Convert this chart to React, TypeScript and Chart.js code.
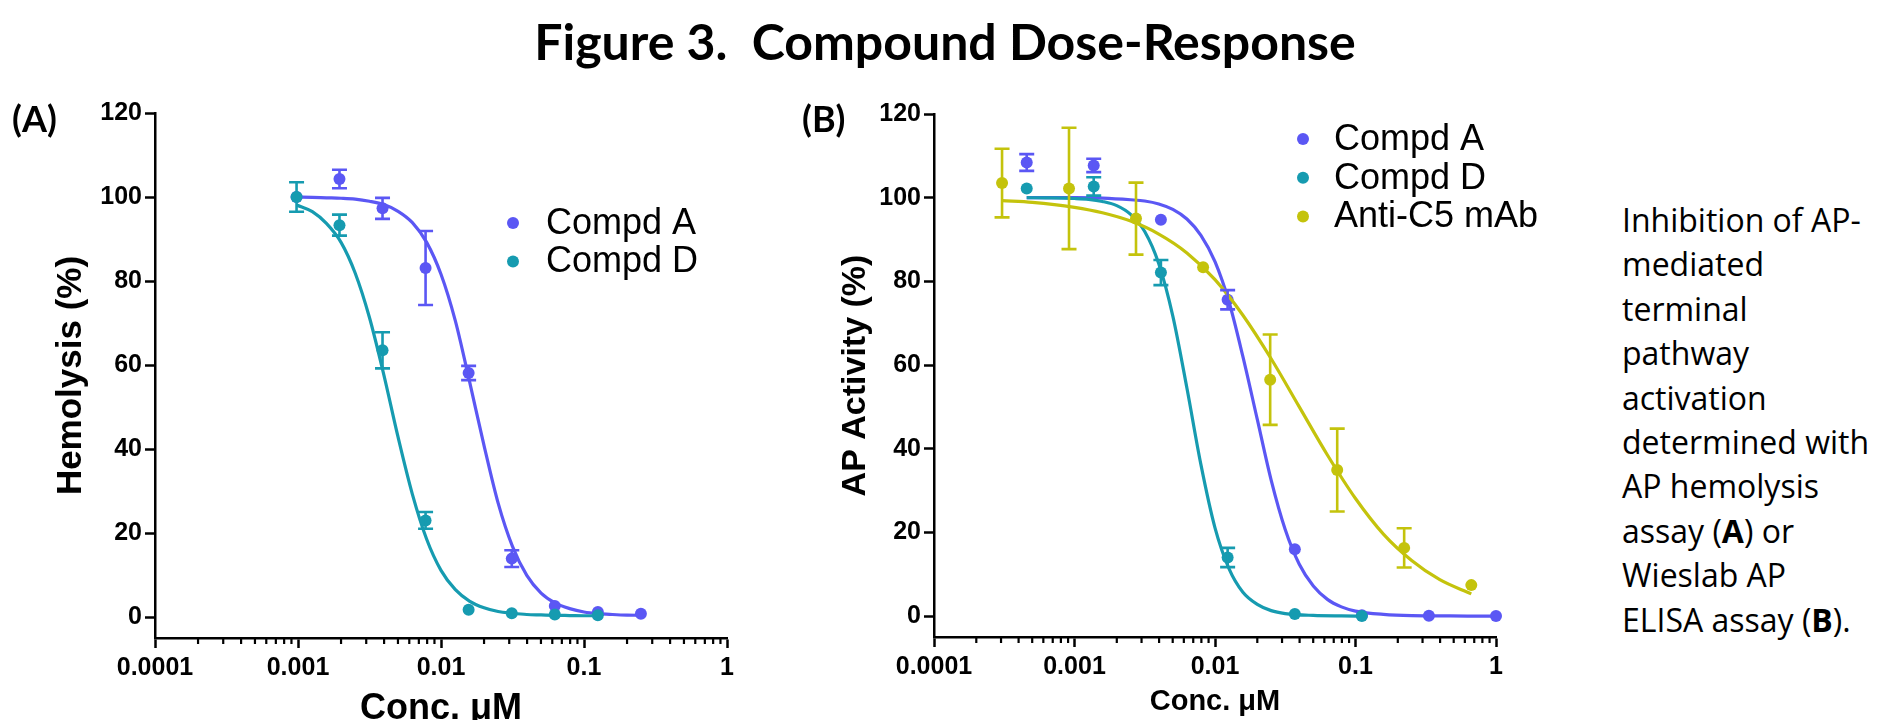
import React, { useEffect, useRef } from 'react';
import { Chart, registerables } from 'chart.js';

Chart.register(...registerables);

const AXIS_FONT = "'Liberation Sans', Arial, sans-serif";
const COLOR_A = '#5b57f4';
const COLOR_D = '#169bb0';
const COLOR_C5 = '#c4c30c';

// ---------- axis ticks ----------
const xTickValues = [0.0001, 0.001, 0.01, 0.1, 1];
const xTickLabels = ['0.0001', '0.001', '0.01', '0.1', '1'];
const yTickValues = [0, 20, 40, 60, 80, 100, 120];
const yTickLabels = ['0', '20', '40', '60', '80', '100', '120'];

// ---------- Panel A : hemolysis ----------
const seriesNamesA = ['Compd A', 'Compd D'];
const concA_hemo = [0.000977, 0.00195, 0.0039, 0.0078, 0.0156, 0.03125, 0.0625, 0.125, 0.25];
const hemoA = [100, 104.3, 97.3, 83.1, 58.1, 13.9, 2.6, 1.2, 0.8];
const hemoAErr = [0, 2.2, 2.5, 8.8, 1.7, 2.0, 0, 0, 0];
const concD_hemo = [0.000977, 0.00195, 0.0039, 0.0078, 0.0156, 0.03125, 0.0625, 0.125];
const hemoD = [100, 93.3, 63.5, 23.0, 1.7, 0.9, 0.6, 0.4];
const hemoDErr = [3.5, 2.5, 4.3, 2.0, 0, 0, 0, 0];

const fitConcA_hemo = [0.000977, 0.00126, 0.00158, 0.002, 0.00251, 0.00316, 0.00398, 0.00501, 0.00631, 0.00794, 0.01, 0.0126, 0.0158, 0.02, 0.0251, 0.0316, 0.0398, 0.0501, 0.0631, 0.0794, 0.1, 0.126, 0.158, 0.2, 0.25];
const fitA_hemo = [100.0, 99.9, 99.8, 99.7, 99.5, 99.0, 98.2, 96.6, 93.9, 89.2, 81.6, 70.5, 56.2, 40.8, 27.1, 16.8, 9.9, 5.7, 3.3, 2.0, 1.2, 0.8, 0.6, 0.45, 0.4];
const fitConcD_hemo = [0.000977, 0.00126, 0.00158, 0.002, 0.00251, 0.00316, 0.00398, 0.00501, 0.00631, 0.00794, 0.01, 0.0126, 0.0158, 0.02, 0.0251, 0.0316, 0.0398, 0.0501, 0.0631, 0.0794, 0.1, 0.125];
const fitD_hemo = [98.1, 96.5, 93.7, 89.2, 81.9, 71.3, 57.7, 42.8, 29.2, 18.5, 11.1, 6.5, 3.8, 2.2, 1.3, 0.9, 0.6, 0.5, 0.4, 0.35, 0.3, 0.3];

// ---------- Panel B : Wieslab AP ELISA ----------
const seriesNamesB = ['Compd A', 'Compd D', 'Anti-C5 mAb'];
const concA_ap = [0.000457, 0.00137, 0.00412, 0.0123, 0.037, 0.111, 0.333, 1];
const apA = [108.4, 107.7, 94.7, 75.6, 16.0, 0.2, 0.1, 0.0];
const apAErr = [2.0, 1.6, 0, 2.3, 0, 0, 0, 0];
const concD_ap = [0.000457, 0.00137, 0.00412, 0.0123, 0.037, 0.111];
const apD = [102.2, 102.7, 82.1, 14.0, 0.5, 0.0];
const apDErr = [0, 2.2, 3.0, 2.3, 0, 0];
const concC5 = [0.000305, 0.000914, 0.00274, 0.00823, 0.0247, 0.0741, 0.222, 0.667];
const apC5 = [103.5, 102.2, 95.0, 83.4, 56.5, 34.9, 16.3, 7.4];
const apC5Err = [8.2, 14.5, 8.6, 0, 10.8, 9.9, 4.7, 0];

const fitConcA_ap = [0.000457, 0.000631, 0.001, 0.00158, 0.00251, 0.00316, 0.00398, 0.00501, 0.00631, 0.00794, 0.01, 0.0126, 0.0158, 0.02, 0.0251, 0.0316, 0.0398, 0.0501, 0.0631, 0.0794, 0.1, 0.158, 0.251, 0.398, 0.631, 1.0];
const fitA_ap = [100.0, 100.0, 100.0, 99.9, 99.5, 99.2, 98.5, 97.2, 94.9, 91.0, 84.7, 75.0, 62.0, 47.0, 32.5, 20.7, 12.4, 7.2, 4.0, 2.2, 1.2, 0.4, 0.1, 0.05, 0.0, 0.0];
const fitConcD_ap = [0.000457, 0.000631, 0.001, 0.00126, 0.00158, 0.002, 0.00251, 0.00316, 0.00398, 0.00501, 0.00631, 0.00794, 0.01, 0.0126, 0.0158, 0.02, 0.0251, 0.0316, 0.0501, 0.0794, 0.111];
const fitD_ap = [100.0, 99.95, 99.8, 99.6, 99.1, 98.1, 96.0, 91.9, 84.2, 71.7, 54.5, 36.2, 21.1, 11.3, 5.7, 2.8, 1.3, 0.6, 0.15, 0.03, 0.0];
const fitConcC5 = [0.000305, 0.000501, 0.001, 0.00158, 0.00251, 0.00398, 0.00631, 0.01, 0.0158, 0.0251, 0.0398, 0.0631, 0.1, 0.158, 0.251, 0.398, 0.667];
const fitC5 = [99.3, 98.9, 97.7, 96.4, 94.4, 91.3, 86.8, 80.4, 71.9, 61.5, 50.0, 38.5, 28.1, 19.6, 13.3, 8.7, 5.3];

const toPoints = (xs: number[], ys: number[]) => xs.map((x, i) => ({ x, y: ys[i] }));

function pointSet(label: string, color: string, xs: number[], ys: number[], errs: number[]) {
  return {
    type: 'line',
    label,
    data: toPoints(xs, ys),
    showLine: false,
    pointRadius: 6,
    pointHoverRadius: 6,
    pointBorderWidth: 0,
    pointBackgroundColor: color,
    borderColor: color,
    backgroundColor: color,
    clip: false,
    errorBars: errs,
  };
}

function fitSet(label: string, color: string, xs: number[], ys: number[]) {
  return {
    type: 'line',
    label,
    data: toPoints(xs, ys),
    borderColor: color,
    backgroundColor: color,
    borderWidth: 3.2,
    pointRadius: 0,
    pointHoverRadius: 0,
    fill: false,
    cubicInterpolationMode: 'monotone',
    clip: false,
  };
}

type PanelCfg = {
  left: number;
  width: number;
  height: number;
  area: { left: number; right: number; top: number; bottom: number };
  yTitle: string;
  yTitleSize: number;
  yTitleMid: number;
  xTitle: string;
  xTitleSize: number;
  xTitleMid: number;
  legend: { x: number; y: number; gap: number; textX: number; size: number; names: string[]; colors: string[] };
  datasets: any[];
};

function buildChart(canvas: HTMLCanvasElement, cfg: PanelCfg) {
  const { area } = cfg;
  const yWidth = area.left - cfg.left;
  const xHeight = cfg.height - area.bottom;
  const xTitleLH = cfg.xTitleSize * 1.2;
  const yTitleLH = cfg.yTitleSize * 1.2;

  const errorBarPlugin = {
    id: 'errorBars',
    afterDatasetsDraw(chart: any) {
      const ctx = chart.ctx;
      const xs = chart.scales.x;
      const ys = chart.scales.y;
      ctx.save();
      for (let i = chart.data.datasets.length - 1; i >= 0; i--) {
        const ds: any = chart.data.datasets[i];
        if (!ds.errorBars) continue;
        ctx.strokeStyle = ds.borderColor;
        ctx.lineWidth = 2.6;
        ds.data.forEach((p: any, j: number) => {
          const e = ds.errorBars[j];
          if (!e) return;
          const px = xs.getPixelForValue(p.x);
          const top = ys.getPixelForValue(p.y + e);
          const bot = ys.getPixelForValue(p.y - e);
          ctx.beginPath();
          ctx.moveTo(px, top);
          ctx.lineTo(px, bot);
          ctx.moveTo(px - 7.5, top);
          ctx.lineTo(px + 7.5, top);
          ctx.moveTo(px - 7.5, bot);
          ctx.lineTo(px + 7.5, bot);
          ctx.stroke();
        });
      }
      ctx.restore();
    },
  };

  const minorTickPlugin = {
    id: 'minorTicks',
    afterDraw(chart: any) {
      const ctx = chart.ctx;
      const xs = chart.scales.x;
      const b = chart.chartArea.bottom;
      ctx.save();
      ctx.strokeStyle = '#000';
      ctx.lineWidth = 2.2;
      for (let k = 0; k < xTickValues.length - 1; k++) {
        for (let m = 2; m <= 9; m++) {
          const px = xs.getPixelForValue(xTickValues[k] * m);
          ctx.beginPath();
          ctx.moveTo(px, b);
          ctx.lineTo(px, b + 6);
          ctx.stroke();
        }
      }
      ctx.restore();
    },
  };

  const legendPlugin = {
    id: 'sideLegend',
    afterDraw(chart: any) {
      const ctx = chart.ctx;
      const L = cfg.legend;
      ctx.save();
      L.names.forEach((name, i) => {
        const y = L.y + i * L.gap;
        ctx.fillStyle = L.colors[i];
        ctx.beginPath();
        ctx.arc(L.x, y, 6, 0, Math.PI * 2);
        ctx.fill();
        ctx.fillStyle = '#000';
        ctx.font = `${L.size}px ${AXIS_FONT}`;
        ctx.textAlign = 'left';
        ctx.textBaseline = 'middle';
        ctx.fillText(name, L.textX, y + 1);
      });
      ctx.restore();
    },
  };

  const tickFont = { family: AXIS_FONT, size: 25, weight: 'bold' as const };

  return new Chart(canvas, {
    type: 'line',
    data: { datasets: cfg.datasets },
    plugins: [errorBarPlugin, minorTickPlugin, legendPlugin],
    options: {
      responsive: false,
      maintainAspectRatio: false,
      animation: false,
      devicePixelRatio: 1,
      events: [],
      layout: {
        padding: { left: 0, top: area.top, right: cfg.left + cfg.width - area.right, bottom: 0 },
      },
      plugins: { legend: { display: false }, tooltip: { enabled: false }, title: { display: false } },
      scales: {
        x: {
          type: 'logarithmic',
          min: xTickValues[0],
          max: xTickValues[xTickValues.length - 1],
          afterBuildTicks: (s: any) => {
            s.ticks = xTickValues.map((v) => ({ value: v, major: true }));
          },
          afterFit: (s: any) => {
            s.height = xHeight;
          },
          border: { display: true, color: '#000', width: 2.5 },
          grid: { display: true, drawOnChartArea: false, drawTicks: true, tickLength: 10, tickWidth: 2.5, tickColor: '#000' },
          ticks: {
            autoSkip: false,
            maxRotation: 0,
            minRotation: 0,
            padding: 5,
            color: '#000',
            font: tickFont,
            callback: (v: any) => {
              const i = xTickValues.indexOf(Number(v));
              return i >= 0 ? xTickLabels[i] : '';
            },
          },
          title: {
            display: true,
            text: cfg.xTitle,
            color: '#000',
            font: { family: AXIS_FONT, size: cfg.xTitleSize, weight: 'bold', lineHeight: 1.2 },
            padding: { top: 0, bottom: cfg.height - cfg.xTitleMid - xTitleLH / 2 },
          },
        },
        y: {
          type: 'linear',
          min: -5,
          max: 120,
          afterBuildTicks: (s: any) => {
            s.ticks = yTickValues.map((v) => ({ value: v }));
          },
          afterFit: (s: any) => {
            s.width = yWidth;
          },
          border: { display: true, color: '#000', width: 2.5 },
          grid: { display: true, drawOnChartArea: false, drawTicks: true, tickLength: 10, tickWidth: 2.5, tickColor: '#000' },
          ticks: {
            padding: 3,
            color: '#000',
            font: tickFont,
            callback: (v: any) => {
              const i = yTickValues.indexOf(Number(v));
              return i >= 0 ? yTickLabels[i] : '';
            },
          },
          title: {
            display: true,
            text: cfg.yTitle,
            color: '#000',
            font: { family: AXIS_FONT, size: cfg.yTitleSize, weight: 'bold', lineHeight: 1.2 },
            padding: { top: cfg.yTitleMid - cfg.left - yTitleLH / 2, bottom: 0 },
          },
        },
      },
    } as any,
  });
}

function Panel({ cfg }: { cfg: PanelCfg }) {
  const ref = useRef<HTMLCanvasElement | null>(null);
  useEffect(() => {
    if (!ref.current) return;
    const chart = buildChart(ref.current, cfg);
    return () => chart.destroy();
  }, [cfg]);
  return (
    <canvas
      ref={ref}
      width={cfg.width}
      height={cfg.height}
      style={{ position: 'absolute', left: cfg.left, top: 0, width: cfg.width, height: cfg.height }}
    />
  );
}

const panelA: PanelCfg = {
  left: 0,
  width: 760,
  height: 760,
  area: { left: 155, right: 727, top: 113, bottom: 638 },
  yTitle: 'Hemolysis (%)',
  yTitleSize: 35,
  yTitleMid: 71,
  xTitle: 'Conc. μM',
  xTitleSize: 36,
  xTitleMid: 709,
  legend: { x: 513, y: 223, gap: 38.5, textX: 546, size: 36, names: seriesNamesA, colors: [COLOR_A, COLOR_D] },
  datasets: [
    pointSet(seriesNamesA[1], COLOR_D, concD_hemo, hemoD, hemoDErr),
    fitSet(seriesNamesA[1] + ' fit', COLOR_D, fitConcD_hemo, fitD_hemo),
    pointSet(seriesNamesA[0], COLOR_A, concA_hemo, hemoA, hemoAErr),
    fitSet(seriesNamesA[0] + ' fit', COLOR_A, fitConcA_hemo, fitA_hemo),
  ],
};

const panelB: PanelCfg = {
  left: 780,
  width: 800,
  height: 760,
  area: { left: 934, right: 1496, top: 114, bottom: 637 },
  yTitle: 'AP Activity (%)',
  yTitleSize: 34,
  yTitleMid: 856,
  xTitle: 'Conc. μM',
  xTitleSize: 29,
  xTitleMid: 702,
  legend: { x: 523, y: 139, gap: 38.7, textX: 554, size: 36, names: seriesNamesB, colors: [COLOR_A, COLOR_D, COLOR_C5] },
  datasets: [
    pointSet(seriesNamesB[2], COLOR_C5, concC5, apC5, apC5Err),
    fitSet(seriesNamesB[2] + ' fit', COLOR_C5, fitConcC5, fitC5),
    pointSet(seriesNamesB[1], COLOR_D, concD_ap, apD, apDErr),
    fitSet(seriesNamesB[1] + ' fit', COLOR_D, fitConcD_ap, fitD_ap),
    pointSet(seriesNamesB[0], COLOR_A, concA_ap, apA, apAErr),
    fitSet(seriesNamesB[0] + ' fit', COLOR_A, fitConcA_ap, fitA_ap),
  ],
};

export default function App() {
  return (
    <div
      style={{
        position: 'fixed',
        left: 0,
        top: 0,
        width: 1881,
        height: 720,
        overflow: 'hidden',
        background: '#fff',
      }}
    >
      <Panel cfg={panelA} />
      <Panel cfg={panelB} />
      <div
        style={{
          position: 'absolute',
          left: 0,
          top: 11,
          width: 1890,
          textAlign: 'center',
          fontFamily: 'Lato, sans-serif',
          fontWeight: 700,
          fontSize: 50,
          lineHeight: 1.2,
          whiteSpace: 'pre',
          color: '#000',
        }}
      >
        {'Figure 3.  Compound Dose-Response'}
      </div>
      <div
        style={{
          position: 'absolute',
          left: 12,
          top: 97,
          fontFamily: 'Lato, sans-serif',
          fontWeight: 700,
          fontSize: 36,
          lineHeight: 1.2,
          color: '#000',
        }}
      >
        (A)
      </div>
      <div
        style={{
          position: 'absolute',
          left: 802,
          top: 97,
          fontFamily: 'Lato, sans-serif',
          fontWeight: 700,
          fontSize: 36,
          lineHeight: 1.2,
          color: '#000',
        }}
      >
        (B)
      </div>
      <div
        style={{
          position: 'absolute',
          left: 1622,
          top: 198,
          fontFamily: "'Open Sans', sans-serif",
          fontSize: 32,
          lineHeight: '44.4px',
          color: '#000',
          whiteSpace: 'nowrap',
        }}
      >
        Inhibition of AP-
        <br />
        mediated
        <br />
        terminal
        <br />
        pathway
        <br />
        activation
        <br />
        determined with
        <br />
        AP hemolysis
        <br />
        assay (<b>A</b>) or
        <br />
        Wieslab AP
        <br />
        ELISA assay (<b>B</b>).
      </div>
    </div>
  );
}
